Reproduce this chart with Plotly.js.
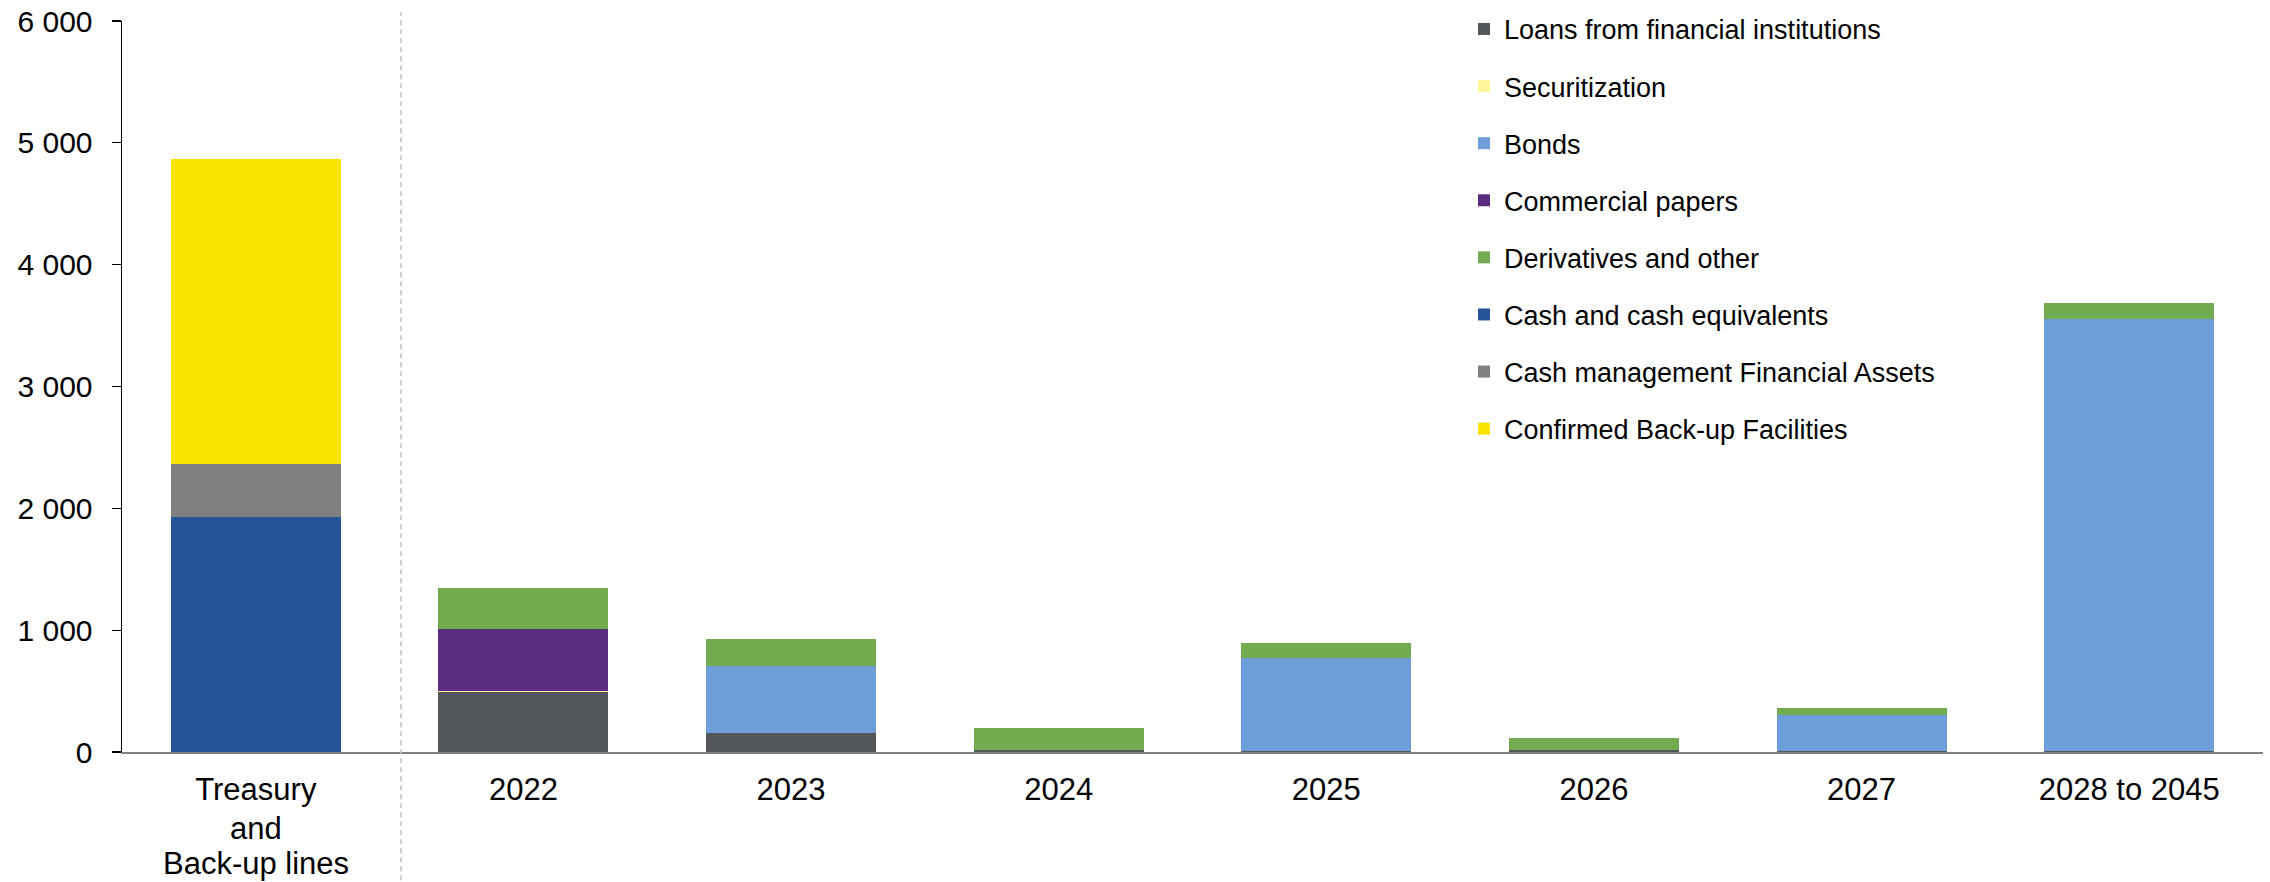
<!DOCTYPE html>
<html>
<head>
<meta charset="utf-8">
<script src="https://cdn.plot.ly/plotly-3.0.1.min.js"></script>
<style>html,body{margin:0;padding:0;background:#fff;}#chart{width:2270px;height:882px;}</style>
</head>
<body>
<div id="chart"></div>
<script>
const categories = ["Treasury and Back-up lines", "2022", "2023", "2024", "2025", "2026", "2027", "2028 to 2045"];
const tickLabels = ["Treasury", "2022", "2023", "2024", "2025", "2026", "2027", "2028 to 2045"];
const firstLabelExtraLines = ["and", "Back-up lines"];

const loans          = [0, 490, 155, 20, 12, 15, 5, 10];
const securitization = [0, 12, 0, 0, 0, 0, 0, 0];
const bonds          = [0, 0, 553, 0, 757, 0, 298, 3548];
const commercialPapers = [0, 509, 0, 0, 0, 0, 0, 0];
const derivatives    = [0, 332, 221, 174, 123, 100, 59, 131];
const cash           = [1930, 0, 0, 0, 0, 0, 0, 0];
const cashMgmt       = [435, 0, 0, 0, 0, 0, 0, 0];
const backup         = [2505, 0, 0, 0, 0, 0, 0, 0];

const series = [
  {name: "Loans from financial institutions", y: loans, color: "#53565a"},
  {name: "Securitization", y: securitization, color: "#fff59d"},
  {name: "Bonds", y: bonds, color: "#6f9fdb"},
  {name: "Commercial papers", y: commercialPapers, color: "#5a2d81"},
  {name: "Derivatives and other", y: derivatives, color: "#73ac50"},
  {name: "Cash and cash equivalents", y: cash, color: "#265298"},
  {name: "Cash management Financial Assets", y: cashMgmt, color: "#808080"},
  {name: "Confirmed Back-up Facilities", y: backup, color: "#fbe300"}
];

const traces = series.map((s, i) => ({
  type: "bar",
  x: categories,
  y: s.y,
  name: s.name,
  legendgroup: "g" + i,
  marker: {color: s.color, line: {width: 0}},
  hoverinfo: "name+y"
}));

const FONT = "Liberation Sans, Arial, sans-serif";

const layout = {
  width: 2270,
  height: 882,
  barmode: "stack",
  bargap: 0.365,
  separators: ". ",
  paper_bgcolor: "#ffffff",
  plot_bgcolor: "#ffffff",
  font: {family: FONT, color: "#000000"},
  margin: {l: 122, r: 7, t: 20.5, b: 130, autoexpand: false},
  showlegend: true,
  legend: {
    x: 0.6268, xanchor: "left",
    y: 1.022, yanchor: "top",
    bgcolor: "rgba(0,0,0,0)",
    font: {size: 27, color: "#000000", family: FONT},
    traceorder: "grouped",
    tracegroupgap: 19,
    itemwidth: 30
  },
  xaxis: {
    type: "category",
    tickmode: "array",
    tickvals: categories,
    ticktext: tickLabels,
    showline: true,
    linecolor: "#808080",
    linewidth: 2,
    ticks: "outside",
    ticklen: 9,
    tickcolor: "rgba(0,0,0,0)",
    tickfont: {size: 31, color: "#000000", family: FONT},
    showgrid: false,
    zeroline: false
  },
  yaxis: {
    range: [0, 6000],
    dtick: 1000,
    tick0: 0,
    tickformat: ",d",
    showline: true,
    linecolor: "#000000",
    linewidth: 1.5,
    ticks: "outside",
    ticklen: 9,
    tickwidth: 1.2,
    tickcolor: "#000000",
    ticklabelstandoff: 13,
    tickfont: {size: 30, color: "#000000", family: FONT},
    showgrid: false,
    zeroline: false
  },
  annotations: [
    {text: firstLabelExtraLines[0], x: categories[0], xref: "x", y: -0.1051, yref: "paper",
     xanchor: "center", yanchor: "middle", showarrow: false, font: {size: 31, color: "#000000", family: FONT}},
    {text: firstLabelExtraLines[1], x: categories[0], xref: "x", y: -0.1530, yref: "paper",
     xanchor: "center", yanchor: "middle", showarrow: false, font: {size: 31, color: "#000000", family: FONT}}
  ],
  shapes: [{
    type: "line",
    xref: "paper", yref: "paper",
    x0: 0.1303, x1: 0.1303,
    y0: -0.2, y1: 1.012,
    line: {color: "#bfbfbf", width: 1.5, dash: "5px,4px"}
  }]
};

Plotly.newPlot("chart", traces, layout, {displayModeBar: false, staticPlot: true});
</script>
</body>
</html>
